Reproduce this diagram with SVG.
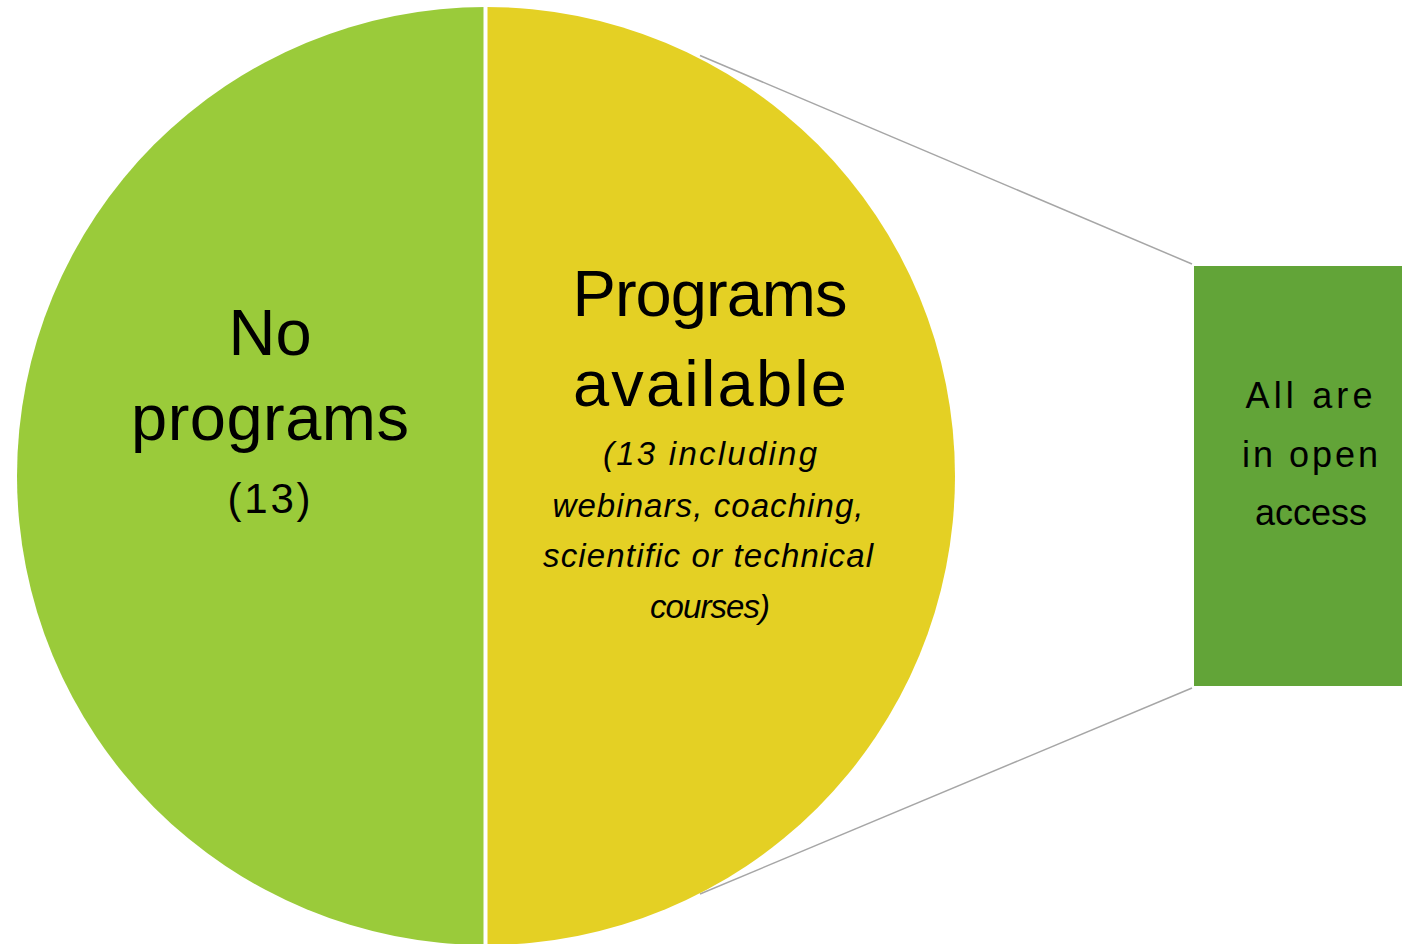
<svg xmlns="http://www.w3.org/2000/svg" width="1412" height="944" viewBox="0 0 1412 944">
<style>
.t{font-family:"Liberation Sans",Arial,sans-serif;fill:#000;text-anchor:middle}
.big{font-size:65px}
.mid{font-size:42px}
.it{font-size:33px;font-style:italic}
.box{font-size:36px}
.conn{stroke:#A6A6A6;stroke-width:1.5;fill:none}
</style>
<rect width="1412" height="944" fill="#FFFFFF"/>
<g id="connectors">
<line class="conn" x1="700" y1="55.5" x2="1192" y2="264"/>
<line class="conn" x1="700" y1="894" x2="1192" y2="688"/>
</g>
<g id="pie">
<path id="slice-no" d="M486,476 L486,7 A469,469 0 0,0 486,945 Z" fill="#9ACB3A"/>
<path id="slice-yes" d="M486,476 L486,7 A469,469 0 0,1 486,945 Z" fill="#E4D024"/>
<line x1="485.5" y1="0" x2="485.5" y2="944" stroke="#FFFFFF" stroke-width="4"/>
</g>
<g id="node-no">
<text class="t big" x="270" y="355">No</text>
<text class="t big" x="270" y="440" textLength="278">programs</text>
<text class="t mid" x="269" y="513" textLength="83">(13)</text>
</g>
<g id="node-yes">
<text class="t big" x="710" y="316" textLength="275">Programs</text>
<text class="t big" x="710" y="406" textLength="274">available</text>
<text class="t it" x="710" y="465" textLength="214">(13 including</text>
<text class="t it" x="708" y="517" textLength="311">webinars, coaching,</text>
<text class="t it" x="708" y="567" textLength="330">scientific or technical</text>
<text class="t it" x="710" y="618" textLength="120">courses)</text>
</g>
<g id="node-box">
<rect x="1194" y="266" width="208" height="420" fill="#62A438"/>
<text class="t box" x="1309" y="408" textLength="127">All are</text>
<text class="t box" x="1310" y="467" textLength="136">in open</text>
<text class="t box" x="1311" y="525" textLength="112">access</text>
</g>
</svg>
